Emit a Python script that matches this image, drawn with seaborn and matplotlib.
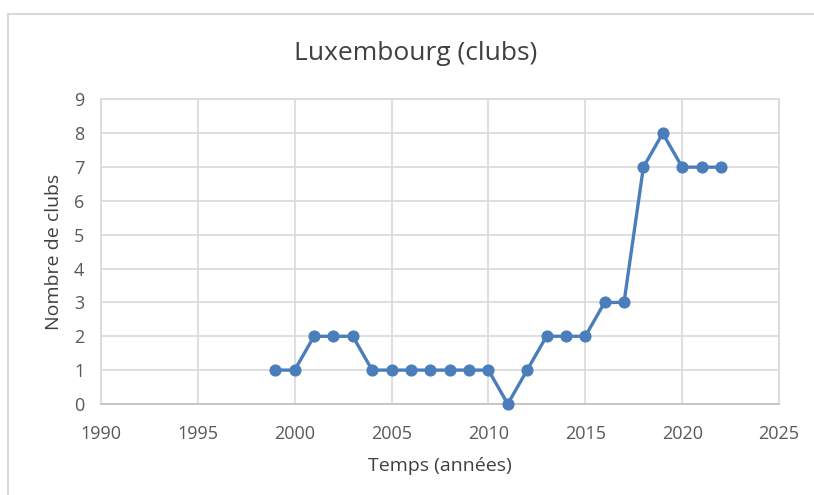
import matplotlib
matplotlib.use("Agg")
import matplotlib.pyplot as plt
import seaborn as sns
import pandas as pd
from matplotlib.patches import Rectangle

years = [1999, 2000, 2001, 2002, 2003, 2004, 2005, 2006, 2007, 2008, 2009, 2010,
         2011, 2012, 2013, 2014, 2015, 2016, 2017, 2018, 2019, 2020, 2021, 2022]
clubs = [1, 1, 2, 2, 2, 1, 1, 1, 1, 1, 1, 1,
         0, 1, 2, 2, 2, 3, 3, 7, 8, 7, 7, 7]

df = pd.DataFrame({"annee": years, "clubs": clubs})

sns.set_style("white")
plt.rcParams['font.family'] = ['Open Sans', 'DejaVu Sans']

fig = plt.figure(figsize=(8.14, 4.95), dpi=100)
ax = fig.add_axes([0.124, 0.184, 0.833, 0.615])

# chart border (like the Excel frame)
fig.patches.append(Rectangle((8 / 814, -0.05), 1.2, 1 - 14 / 495 + 0.05,
                             transform=fig.transFigure, fill=False,
                             edgecolor="#d9d9d9", linewidth=1.5))

sns.lineplot(data=df, x="annee", y="clubs", ax=ax, color="#4a7ebb",
             linewidth=2.4, marker="o", markersize=8,
             markeredgecolor="#4a7ebb", clip_on=False, zorder=5)

ax.set_xlim(1990, 2025)
ax.set_ylim(0, 9)
ax.set_xticks(range(1990, 2026, 5))
ax.set_yticks(range(0, 10))
ax.grid(True, color="#d9d9d9", linewidth=1.2)
for s in ax.spines.values():
    s.set_color("#d9d9d9")
    s.set_linewidth(1.2)
ax.spines["bottom"].set_color("#bfbfbf")
ax.tick_params(axis="both", length=0, labelsize=13, colors="#595959")
ax.tick_params(axis="x", pad=15)
ax.tick_params(axis="y", pad=12)

# title is centred on the whole chart frame, not on the plot area
fig.text(416 / 814, 1 - 54 / 495, "Luxembourg (clubs)", fontsize=19,
         color="#404040", ha="center", va="center")
ax.set_xlabel("Temps (années)", fontsize=14, color="#404040", labelpad=10)
ax.set_ylabel("Nombre de clubs", fontsize=14, color="#404040", labelpad=8)

fig.savefig("out.png", dpi=100)
